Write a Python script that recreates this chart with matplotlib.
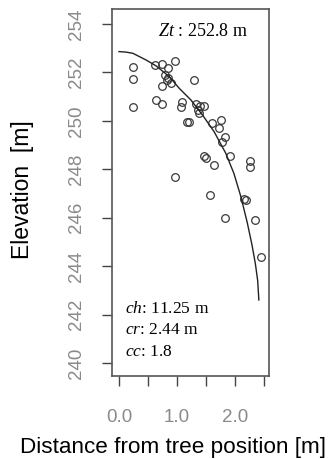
import matplotlib
matplotlib.use("Agg")
import matplotlib.pyplot as plt

# observed crown points (distance from tree position, elevation)
dist = [0.24, 0.24, 0.24, 0.62, 0.75, 0.85, 0.97, 0.79, 0.84, 0.75, 0.90, 0.82,
        0.63, 0.74, 1.09, 1.07, 1.18, 1.20, 1.30, 1.33, 1.40, 1.47, 1.37, 1.38,
        1.61, 1.76, 1.73, 1.83, 1.77, 1.47, 1.50, 1.64, 1.91, 2.25, 2.25, 0.97,
        1.57, 2.15, 2.19, 1.83, 2.35, 2.45]
elev = [252.21, 251.72, 250.58, 252.29, 252.33, 252.18, 252.48, 251.89, 251.76, 251.44, 251.55, 251.69,
        250.86, 250.68, 250.77, 250.56, 249.96, 249.96, 251.69, 250.68, 250.61, 250.61, 250.45, 250.31,
        249.90, 250.03, 249.69, 249.32, 249.14, 248.56, 248.45, 248.18, 248.56, 248.33, 248.11, 247.69,
        246.94, 246.76, 246.73, 245.97, 245.90, 244.39]

# fitted crown profile
fit_x = [0.00, 0.12, 0.24, 0.47, 0.64, 0.87, 1.04, 1.24, 1.44, 1.64, 1.84,
         1.98, 2.10, 2.21, 2.29, 2.35, 2.39, 2.41]
fit_y = [252.86, 252.84, 252.79, 252.51, 252.27, 251.82, 251.34, 250.86, 250.24, 249.55, 248.66,
         247.83, 246.87, 245.80, 244.90, 244.10, 243.40, 242.60]

xticks = [0.0, 0.5, 1.0, 1.5, 2.0, 2.5]
xticklabels = ["0.0", "", "1.0", "", "2.0", ""]
yticks = [240, 242, 244, 246, 248, 250, 252, 254]

plt.rcParams["font.family"] = "Liberation Sans"
plt.rcParams["mathtext.fontset"] = "custom"
plt.rcParams["mathtext.rm"] = "Liberation Serif"
plt.rcParams["mathtext.it"] = "Liberation Serif:italic"

fig = plt.figure(figsize=(3.28, 4.59), dpi=100)
ax = fig.add_axes([112/328, 1 - 376/459, 157/328, 367/459])

ax.plot(dist, elev, "o", mfc="none", mec="#3a3a3a", ms=5.5, mew=0.9)
ax.plot(fit_x, fit_y, color="#222222", lw=1.0)

ax.set_xlim(-0.12, 2.585)
ax.set_ylim(239.46, 254.62)
ax.set_xticks(xticks)
ax.set_xticklabels(xticklabels)
ax.set_yticks(yticks)
ax.set_yticklabels([str(t) for t in yticks], rotation=90, va="center")

ax.tick_params(direction="out", length=7.5, width=1.0, color="#444444",
               labelcolor="#8a8a8a", labelsize=13.5)
ax.tick_params(axis="y", pad=12)
ax.tick_params(axis="x", pad=16)
for s in ax.spines.values():
    s.set_color("#555555")
    s.set_linewidth(1.2)

ax.text(0.576, 0.938, r"$\mathit{Zt}$ : 252.8 m", transform=ax.transAxes,
        ha="center", va="center", fontsize=13, family="Liberation Serif")
ax.text(0.083, 0.1826, r"$\mathit{ch}$: 11.25 m", transform=ax.transAxes,
        ha="left", va="center", fontsize=12.5, family="Liberation Serif")
ax.text(0.083, 0.125, r"$\mathit{cr}$: 2.44 m", transform=ax.transAxes,
        ha="left", va="center", fontsize=12.5, family="Liberation Serif")
ax.text(0.083, 0.066, r"$\mathit{cc}$: 1.8", transform=ax.transAxes,
        ha="left", va="center", fontsize=12.5, family="Liberation Serif")

fig.text(173/328, 1 - 447/459, "Distance from tree position [m]",
         ha="center", va="center", fontsize=16.2)
fig.text(22/328, 1 - 190/459, "Elevation  [m]", rotation=90,
         ha="center", va="center", fontsize=16.5)

fig.savefig("out.png", dpi=100)
